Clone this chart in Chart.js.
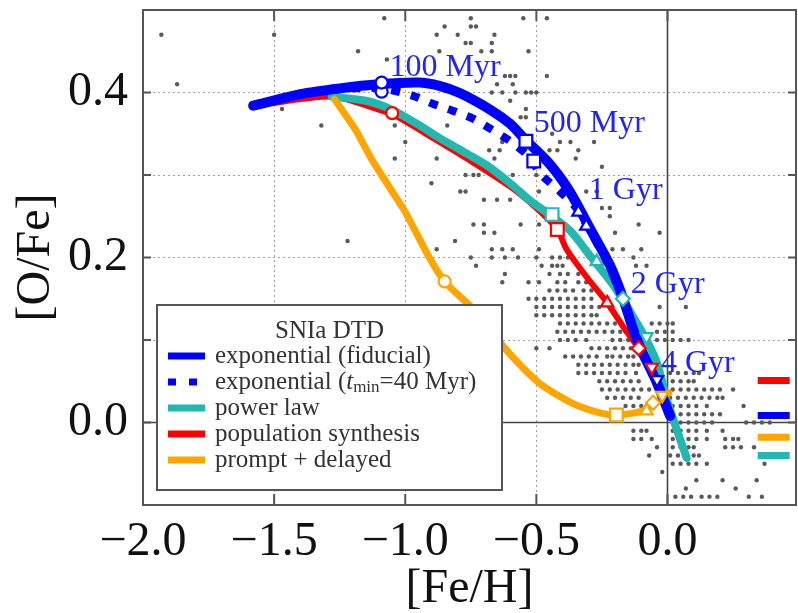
<!DOCTYPE html>
<html>
<head>
<meta charset="utf-8">
<script src="https://cdn.jsdelivr.net/npm/chart.js@4.4.0/dist/chart.umd.min.js"></script>
<style>
  html, body { margin: 0; padding: 0; background: #fff; }
  #wrap { width: 798px; height: 613px; }
</style>
</head>
<body>
<div id="wrap"><canvas id="c" width="798" height="613"></canvas></div>
<script>
// --- model tracks ([Fe/H], [O/Fe]) ---
const fidX = [-1.58, -1.40, -1.25, -1.10, -0.95, -0.87, -0.79, -0.67, -0.60, -0.54, -0.46, -0.40, -0.36, -0.29, -0.22, -0.17, -0.13, -0.10, -0.04, 0.01];
const fidY = [0.384, 0.398, 0.405, 0.410, 0.412, 0.408, 0.399, 0.378, 0.362, 0.342, 0.317, 0.293, 0.273, 0.232, 0.191, 0.151, 0.112, 0.088, 0.048, 0.008];

const tminX = [-1.58, -1.40, -1.20, -1.09, -0.97, -0.90, -0.82, -0.74, -0.67, -0.60, -0.52, -0.49, -0.41, -0.35, -0.30, -0.24, -0.17, -0.13, -0.10, -0.04, 0.01];
const tminY = [0.384, 0.398, 0.405, 0.405, 0.396, 0.387, 0.378, 0.368, 0.355, 0.341, 0.320, 0.303, 0.280, 0.261, 0.235, 0.200, 0.151, 0.112, 0.088, 0.048, 0.008];

const powX = [-1.28, -1.15, -1.05, -0.95, -0.87, -0.76, -0.69, -0.60, -0.52, -0.44, -0.37, -0.29, -0.21, -0.15, -0.08, -0.04, 0.00, 0.073];
const powY = [0.395, 0.390, 0.379, 0.361, 0.345, 0.325, 0.312, 0.290, 0.268, 0.250, 0.232, 0.200, 0.168, 0.138, 0.100, 0.072, 0.025, -0.043];

const popX = [-1.57, -1.28, -1.09, -1.05, -0.90, -0.76, -0.60, -0.50, -0.42, -0.385, -0.31, -0.23, -0.16, -0.11, -0.06, -0.02];
const popY = [0.384, 0.395, 0.378, 0.374, 0.346, 0.319, 0.286, 0.260, 0.234, 0.210, 0.177, 0.145, 0.112, 0.090, 0.067, 0.048];

const prdX = [-1.27, -1.19, -1.13, -1.06, -1.00, -0.91, -0.85, -0.74, -0.615, -0.49, -0.36, -0.25, -0.195, -0.12, -0.08, -0.03, 0.005];
const prdY = [0.392, 0.355, 0.320, 0.285, 0.255, 0.201, 0.171, 0.137, 0.088, 0.048, 0.023, 0.011, 0.009, 0.012, 0.016, 0.028, 0.036];

// --- age markers on each track (o circle, s square, ^ triangle, v down triangle, d diamond) ---
const fidMarkX = [-1.09, -0.54, -0.31, -0.04];
const fidMarkY = [0.401, 0.341, 0.238, 0.052];
const fidMarkS = ['o', 's', '^', 'v'];
const tminMarkX = [-1.09, -0.51, -0.34];
const tminMarkY = [0.412, 0.317, 0.255];
const tminMarkS = ['o', 's', '^'];
const powMarkX = [-0.44, -0.27, -0.17, -0.08];
const powMarkY = [0.252, 0.195, 0.150, 0.104];
const powMarkS = ['s', '^', 'd', 'v'];
const popMarkX = [-1.05, -0.42, -0.23, -0.11, -0.06];
const popMarkY = [0.375, 0.234, 0.145, 0.090, 0.067];
const popMarkS = ['o', 's', '^', 'd', 'v'];
const prdMarkX = [-0.85, -0.195, -0.08, -0.055, -0.02];
const prdMarkY = [0.171, 0.009, 0.014, 0.024, 0.033];
const prdMarkS = ['o', 's', '^', 'd', 'v'];

// --- age labels ---
const ageText = ['100 Myr', '500 Myr', '1 Gyr', '2 Gyr', '4 Gyr'];
const ageX = [-1.06, -0.51, -0.30, -0.14, -0.025];
const ageY = [0.420, 0.352, 0.271, 0.157, 0.061];

// --- legend names ---
const legendTitle = 'SNIa DTD';
const legendNames = ['exponential (fiducial)', 'exponential (t_min=40 Myr)', 'power law', 'population synthesis', 'prompt + delayed'];

// --- cut-off second legend at right edge ---
const stubX = [0.344, 0.466];
const stubY = { red: 0.051, blue: 0.0085, orange: -0.018, cyan: -0.040 };

// --- observed stars: [O/Fe] row, [Fe/H] values ---
const starRows = [
  [0.49, [-1.08, -0.75, -0.55, -0.46]],
  [0.48, [-0.85, -0.75, -0.73]],
  [0.47, [-1.93, -1.50, -0.88, -0.80, -0.66]],
  [0.46, [-0.77, -0.75, -0.67]],
  [0.45, [-1.18, -0.87, -0.71, -0.67, -0.53]],
  [0.44, [-1.07]],
  [0.42, [-0.62, -0.60, -0.58, -0.46]],
  [0.41, [-1.87, -0.65, -0.59]],
  [0.40, [-0.67, -0.63, -0.58, -0.54, -0.52, -0.50]],
  [0.39, [-0.60]],
  [0.38, [-1.47, -0.54]],
  [0.37, [-0.56, -0.54]],
  [0.36, [-1.32, -1.04, -0.84]],
  [0.35, [-0.44]],
  [0.34, [-1.00, -0.63, -0.41, -0.37, -0.28]],
  [0.33, [-0.68, -0.64, -0.45, -0.42, -0.34]],
  [0.32, [-1.04, -0.88, -0.66, -0.35]],
  [0.31, [-0.25]],
  [0.30, [-0.77, -0.74, -0.72, -0.59, -0.50]],
  [0.29, [-0.90]],
  [0.28, [-0.79, -0.77, -0.49, -0.31, -0.27]],
  [0.27, [-0.70, -0.65, -0.60]],
  [0.26, [-0.25, -0.22]],
  [0.25, [-0.22]],
  [0.24, [-0.74, -0.70, -0.56, -0.49, -0.11]],
  [0.23, [-0.70, -0.66, -0.20, -0.03]],
  [0.22, [-1.22, -0.81]],
  [0.21, [-0.88, -0.67, -0.63, -0.59, -0.49, -0.21, -0.17, -0.10]],
  [0.20, [-0.75, -0.67, -0.62, -0.57, -0.50, -0.44, -0.41, -0.38, -0.13]],
  [0.19, [-0.73, -0.48, -0.44, -0.42, -0.40, -0.12, -0.08]],
  [0.18, [-0.62, -0.45, -0.41, -0.38, -0.34]],
  [0.17, [-0.63, -0.53, -0.49, -0.42, -0.39, -0.34, -0.31]],
  [0.16, [-0.45, -0.42, -0.39, -0.36, -0.32, -0.29]],
  [0.15, [-0.53, -0.50, -0.47, -0.44, -0.41, -0.38, -0.35, -0.32, -0.29]],
  [0.14, [-0.50, -0.47, -0.44, -0.41, -0.38, -0.35, -0.32, -0.29, -0.26, -0.03, 0.07]],
  [0.13, [-0.50, -0.47, -0.44, -0.41, -0.38, -0.35, -0.32, -0.29, -0.27]],
  [0.12, [-0.41, -0.38, -0.35, -0.32, -0.29, -0.26, -0.23, -0.20, -0.06, -0.03, 0.00, 0.02]],
  [0.11, [-0.42, -0.39, -0.36, -0.33, -0.30, -0.27, -0.24, -0.21, -0.18, -0.16, -0.04, -0.01, 0.02]],
  [0.10, [-0.41, -0.38, -0.35, -0.31, -0.21, -0.18, -0.15, -0.04, -0.01, 0.02, 0.05, 0.08]],
  [0.09, [-0.50, -0.45, -0.29, -0.26, -0.23, -0.20, -0.17, -0.14, -0.11]],
  [0.08, [-0.39, -0.36, -0.33, -0.30, -0.27, -0.23, -0.21, -0.18, -0.15, -0.13]],
  [0.07, [-0.34, -0.31, -0.28, -0.25, -0.22, -0.19, -0.16, -0.13, -0.11]],
  [0.06, [-0.34, -0.31, -0.28, -0.25, -0.22, -0.19, -0.16, -0.12, 0.01, 0.04, 0.07, 0.10, 0.12]],
  [0.05, [-0.26, -0.23, -0.20, -0.17, -0.14, -0.11, 0.02, 0.05, 0.08, 0.10]],
  [0.04, [-0.25, -0.22, -0.19, -0.16, -0.13, -0.10, -0.07, 0.02, 0.05, 0.08, 0.11, 0.14, 0.17, 0.20, 0.25]],
  [0.03, [-0.23, -0.20, -0.17, -0.14, -0.11, 0.01, 0.04, 0.07, 0.10, 0.13, 0.16, 0.19, 0.21]],
  [0.02, [-0.16, -0.13, -0.10, -0.08, 0.02, 0.05, 0.08, 0.11, 0.15, 0.29]],
  [0.01, [0.05, 0.08, 0.11, 0.14, 0.17, 0.20]],
  [0.00, [0.02, 0.05, 0.08, 0.11, 0.14, 0.17, 0.30, 0.33, 0.36, 0.39]],
  [-0.01, [-0.13, -0.10, -0.08, 0.02, 0.05, 0.08, 0.11, 0.15, 0.21]],
  [-0.02, [-0.13, -0.10, -0.06, 0.02, 0.05, 0.08, 0.11, 0.15, 0.22, 0.25, 0.27]],
  [-0.03, [-0.04, 0.02, 0.05, 0.08, 0.10, 0.22, 0.25, 0.28, 0.33]],
  [-0.04, [-0.07, 0.01, 0.04, 0.07, 0.10, 0.12]],
  [-0.05, [0.02, 0.05, 0.08, 0.11, 0.15, 0.37]],
  [-0.06, [-0.02]],
  [-0.07, [0.11, 0.21, 0.34]],
  [-0.08, [0.07, 0.26]],
  [-0.09, [0.03, 0.06, 0.09, 0.13, 0.16, 0.19, 0.31, 0.36]]
];

const SERIF = '"Liberation Serif", "DejaVu Serif", serif';
const BLUE = '#0000ff', CYAN = '#22b8b0', RED = '#ff0000', ORANGE = '#ffa500';

function pts(xs, ys) { return xs.map((x, i) => ({ x: x, y: ys[i] })); }

const shapeStyle = { o: 'circle', s: 'rect', '^': 'triangle', v: 'triangle', d: 'rectRot' };
const shapeRadius = { o: 6, s: 9, '^': 7, v: 7, d: 7 };

function track(label, xs, ys, color, width, order, dash) {
  return {
    label: label, data: pts(xs, ys), showLine: true, borderColor: color, borderWidth: width,
    borderDash: dash || [], pointRadius: 0, tension: 0.25, fill: false, order: order,
    borderCapStyle: dash ? 'butt' : 'round', borderJoinStyle: 'round'
  };
}

function marks(xs, ys, shapes, color, order) {
  return {
    data: pts(xs, ys), showLine: false, order: order,
    pointStyle: shapes.map(s => shapeStyle[s]),
    rotation: shapes.map(s => (s === 'v' ? 180 : 0)),
    pointRadius: shapes.map(s => shapeRadius[s]),
    pointBackgroundColor: '#fff', pointBorderColor: color, pointBorderWidth: 2.2
  };
}

function stub(y, color) {
  return { data: pts(stubX, [y, y]), showLine: true, borderColor: color, borderWidth: 7, pointRadius: 0, order: 1 };
}

const starData = [];
starRows.forEach(([y, xs]) => xs.forEach(x => starData.push({ x: x, y: y })));

// 圖上的框線、刻度、年齡標籤與圖例
const overlay = {
  id: 'overlay',
  beforeDatasetsDraw(chart) {
    const { ctx, chartArea: a, scales: { x, y } } = chart;
    const x0 = x.getPixelForValue(0), y0 = y.getPixelForValue(0);
    ctx.save();
    ctx.strokeStyle = '#444';
    ctx.lineWidth = 1.6;
    ctx.beginPath();
    ctx.moveTo(x0, a.top); ctx.lineTo(x0, a.bottom);
    ctx.moveTo(a.left, y0); ctx.lineTo(a.right, y0);
    ctx.stroke();
    ctx.restore();
  },
  afterDatasetsDraw(chart) {
    const { ctx, chartArea: a, scales: { x, y } } = chart;
    ctx.save();

    // age labels
    ctx.font = '32px ' + SERIF;
    ctx.fillStyle = '#2222ff';
    ctx.textAlign = 'left';
    ctx.textBaseline = 'alphabetic';
    ageText.forEach((t, i) => ctx.fillText(t, x.getPixelForValue(ageX[i]), y.getPixelForValue(ageY[i])));

    // frame and inward ticks
    ctx.strokeStyle = '#555';
    ctx.lineWidth = 2;
    ctx.strokeRect(a.left, a.top, a.width, a.height);
    ctx.beginPath();
    y.ticks.forEach(t => {
      const py = y.getPixelForValue(t.value);
      ctx.moveTo(a.left, py); ctx.lineTo(a.left + 8, py);
      ctx.moveTo(a.right, py); ctx.lineTo(a.right - 8, py);
    });
    x.ticks.forEach(t => {
      const px = x.getPixelForValue(t.value);
      ctx.moveTo(px, a.bottom); ctx.lineTo(px, a.bottom - 11);
      ctx.moveTo(px, a.top); ctx.lineTo(px, a.top + 11);
    });
    ctx.stroke();

    // legend box
    const L = a.left + 14, W = 345, H = 185, T = a.bottom - 15 - H;
    ctx.fillStyle = '#fff';
    ctx.fillRect(L, T, W, H);
    ctx.strokeStyle = '#555';
    ctx.lineWidth = 2;
    ctx.strokeRect(L, T, W, H);

    ctx.fillStyle = '#333';
    ctx.font = '25px ' + SERIF;
    ctx.textBaseline = 'middle';
    ctx.textAlign = 'center';
    ctx.fillText(legendTitle, L + W / 2, T + 26);

    const rowY = [51, 77, 103, 129, 155];
    const colors = [BLUE, BLUE, CYAN, RED, ORANGE];
    ctx.textAlign = 'left';
    legendNames.forEach((name, i) => {
      const yy = T + rowY[i];
      ctx.strokeStyle = colors[i];
      ctx.lineWidth = 7;
      ctx.setLineDash(i === 1 ? [8, 13] : []);
      ctx.beginPath();
      ctx.moveTo(L + 11, yy); ctx.lineTo(L + 48, yy);
      ctx.stroke();
      ctx.setLineDash([]);
      let tx = L + 58;
      if (name.indexOf('t_min') >= 0) {
        const parts = name.split('t_min');
        ctx.font = '25px ' + SERIF;
        ctx.fillText(parts[0], tx, yy);
        tx += ctx.measureText(parts[0]).width;
        ctx.font = 'italic 25px ' + SERIF;
        ctx.fillText('t', tx, yy);
        tx += ctx.measureText('t').width;
        ctx.font = '17px ' + SERIF;
        ctx.fillText('min', tx, yy + 6);
        tx += ctx.measureText('min').width;
        ctx.font = '25px ' + SERIF;
        ctx.fillText(parts[1], tx, yy);
      } else {
        ctx.font = '25px ' + SERIF;
        ctx.fillText(name, tx, yy);
      }
    });
    ctx.restore();
  }
};

function gridColor(ctx, edges) {
  const v = ctx.tick ? ctx.tick.value : null;
  if (v === null) return 'rgba(0,0,0,0)';
  if (edges.some(e => Math.abs(v - e) < 1e-6)) return 'rgba(0,0,0,0)';
  return '#a0a0a0';
}

function noPad(s) { s.paddingTop = 0; s.paddingBottom = 0; s.paddingLeft = 0; s.paddingRight = 0; }

new Chart(document.getElementById('c'), {
  type: 'scatter',
  data: {
    datasets: [
      { label: 'stars', data: starData, pointRadius: 2.2, pointBackgroundColor: '#5a5a5a', pointBorderWidth: 0, showLine: false, order: 20 },
      track(legendNames[3], popX, popY, RED, 6, 10),
      track(legendNames[2], powX, powY, CYAN, 8, 9),
      track(legendNames[4], prdX, prdY, ORANGE, 7, 8),
      track(legendNames[1], tminX, tminY, BLUE, 8, 7, [9, 11]),
      track(legendNames[0], fidX, fidY, BLUE, 10, 6),
      marks(powMarkX, powMarkY, powMarkS, CYAN, 5),
      marks(tminMarkX, tminMarkY, tminMarkS, BLUE, 4),
      marks(fidMarkX, fidMarkY, fidMarkS, BLUE, 4),
      marks(popMarkX, popMarkY, popMarkS, RED, 3),
      marks(prdMarkX, prdMarkY, prdMarkS, ORANGE, 2),
      stub(stubY.red, RED),
      stub(stubY.blue, BLUE),
      stub(stubY.orange, ORANGE),
      stub(stubY.cyan, CYAN)
    ]
  },
  options: {
    responsive: false,
    devicePixelRatio: 1,
    animation: false,
    layout: { autoPadding: false, padding: { top: 10, right: 2, left: 0, bottom: 0 } },
    plugins: { legend: { display: false }, tooltip: { enabled: false } },
    scales: {
      x: {
        type: 'linear', min: -2.0, max: 0.49,
        ticks: {
          stepSize: 0.5, includeBounds: false, padding: 9, color: '#111',
          font: { family: SERIF, size: 48 },
          callback: v => (v < -1e-9 ? '\u2212' : '') + Math.abs(v).toFixed(1)
        },
        grid: { color: c => gridColor(c, [-2, 0]), lineWidth: 1, drawTicks: false },
        border: { display: false, dash: [2, 3] },
        title: { display: true, text: '[Fe/H]', color: '#111', font: { family: SERIF, size: 48, lineHeight: 1.0 }, padding: { top: 0, bottom: 0 } },
        afterFit: s => { s.height = 108; noPad(s); }
      },
      y: {
        type: 'linear', min: -0.1, max: 0.5,
        ticks: {
          stepSize: 0.1, includeBounds: false, padding: 15, color: '#111',
          font: { family: SERIF, size: 48 },
          callback: v => (Math.round(v * 10) % 2 === 0 ? (Math.abs(v) < 1e-9 ? 0 : v).toFixed(1) : '')
        },
        grid: { color: c => gridColor(c, [-0.1, 0, 0.5]), lineWidth: 1, drawTicks: false },
        border: { display: false, dash: [2, 3] },
        title: { display: true, text: '[O/Fe]', color: '#111', font: { family: SERIF, size: 48 }, padding: { top: 8, bottom: 0 } },
        afterFit: s => { s.width = 143; noPad(s); }
      }
    }
  },
  plugins: [overlay]
});
</script>
</body>
</html>
